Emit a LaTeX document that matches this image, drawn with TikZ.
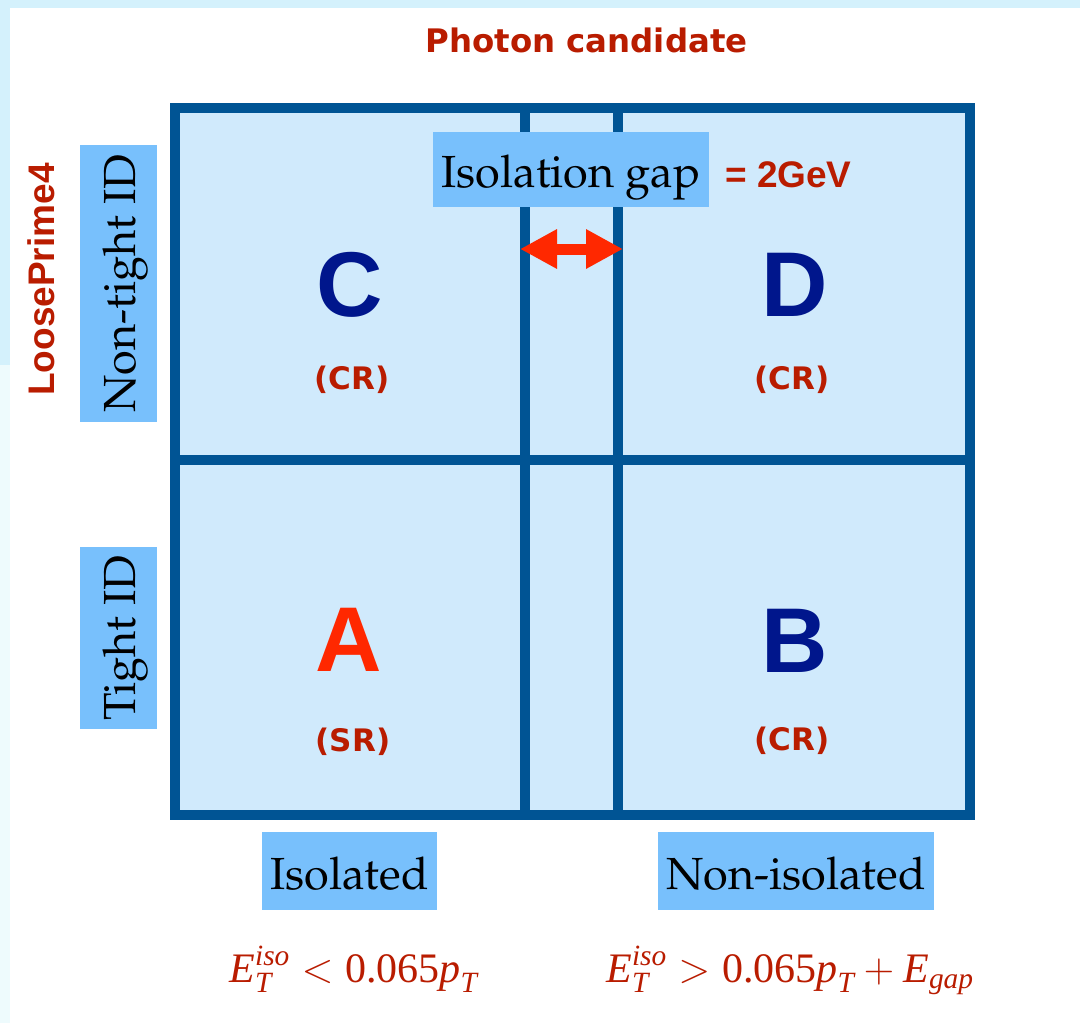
\RequirePackage{fix-cm}
\documentclass[tikz,border=0pt]{standalone}
\usepackage{fontspec}
\usepackage{amsmath}
\usetikzlibrary{arrows.meta}
\setmainfont{Liberation Serif}
\newfontfamily\asans{Liberation Sans}
\newfontfamily\dsans{DejaVu Sans}
\newfontfamily\tms{Liberation Serif}
\newcommand\ti[1]{\text{\tms\itshape #1}}
\newcommand\tu[1]{\text{\tms #1}}
\definecolor{framecol}{RGB}{0,84,148}
\definecolor{cellfill}{RGB}{208,234,252}
\definecolor{boxblue}{RGB}{120,192,252}
\definecolor{navy}{RGB}{0,22,140}
\definecolor{redA}{RGB}{255,40,0}
\definecolor{darkred}{RGB}{185,28,0}
\definecolor{stripA}{RGB}{212,241,252}
\definecolor{stripB}{RGB}{238,251,253}
\tikzset{
  frameline/.style={draw=framecol, line width=10pt, line join=miter},
  lblbox/.style={fill=boxblue, inner sep=0pt, text depth=0pt,
    font={\fontencoding{OT1}\fontfamily{ppl}\fontseries{m}\fontshape{n}\fontsize{45}{54}\selectfont}},
  bigletter/.style={inner sep=0pt, font={\asans\bfseries\fontsize{92}{100}\selectfont}},
  region/.style={inner sep=0pt, text=darkred, font={\dsans\bfseries\fontsize{31}{37}\selectfont}},
  formula/.style={inner sep=0pt, anchor=base, text=darkred, font={\fontsize{42}{50}\selectfont}},
  gaparrow/.style={draw=redA, line width=11pt,
    {Triangle[length=37pt,width=37pt]}-{Triangle[length=37pt,width=37pt]}}
}
\begin{document}
\begin{tikzpicture}[x=1pt,y=-1pt]
\useasboundingbox (0,0) rectangle (1080,1023);
\fill[white] (0,0) rectangle (1080,1023);
\fill[stripA] (0,0) rectangle (1080,8);
\fill[stripA] (0,0) rectangle (10,365);
\fill[stripB] (0,365) rectangle (10,1023);

% frame
\coordinate (tl) at (175,108);
\coordinate (br) at (969.5,815);
\coordinate (v1t) at (524.5,108);
\coordinate (v1b) at (524.5,815);
\coordinate (v2t) at (618,108);
\coordinate (v2b) at (618,815);
\coordinate (hl) at (175,460);
\coordinate (hr) at (969.5,460);
\fill[cellfill] (tl) rectangle (br);
\draw[frameline] (tl) rectangle (br);
\draw[frameline] (v1t) -- (v1b);
\draw[frameline] (v2t) -- (v2b);
\draw[frameline] (hl) -- (hr);

% gap arrow
\coordinate (gl) at (520,249);
\coordinate (gr) at (623,249);
\draw[gaparrow] (gl) -- (gr);

% titles
\node[inner sep=0pt, text=darkred, font={\dsans\bfseries\fontsize{32.4}{38}\selectfont}] (title) at (586.5,40.5) {Photon candidate};
\node[inner sep=0pt, rotate=90, text=darkred, font={\asans\bfseries\fontsize{37}{44}\selectfont}] (lp) at (41.5,279.5) {LoosePrime4};

% label boxes
\node[lblbox, minimum width=276pt, minimum height=75pt, text height=35pt] (gapbox) at (571,169.5) {Isolation gap};
\node[anchor=base west, inner sep=0pt, text=darkred, font={\asans\bfseries\fontsize{37}{44}\selectfont}] (gev) at (725,187) {= 2GeV};
\node[lblbox, rotate=90, minimum width=277pt, minimum height=77pt, text height=33pt] (ntbox) at (118.5,283.5) {Non-tight ID};
\node[lblbox, rotate=90, minimum width=182pt, minimum height=77pt, text height=33pt] (tbox) at (118.5,638) {Tight ID};
\node[lblbox, minimum width=175pt, minimum height=78pt, text height=37pt] (isobox) at (349.5,871) {Isolated};
\node[lblbox, minimum width=276pt, minimum height=78pt, text height=37pt] (nisobox) at (796,871) {Non-isolated};

% region letters
\node[bigletter, text=navy] (C) at (349.5,284.5) {C};
\node[bigletter, text=navy] (D) at (795,284.5) {D};
\node[bigletter, text=redA] (A) at (349,640) {A};
\node[bigletter, text=navy] (B) at (794.5,640.5) {B};
\node[region] (Ccr) at (352,380) {(CR)};
\node[region] (Dcr) at (792,380) {(CR)};
\node[region] (Asr) at (353,742) {(SR)};
\node[region] (Bcr) at (792,741) {(CR)};

% formulas
\node[formula] (f1) at (353.5,982) {$\ti{E}^{\ti{iso}}_{\ti{T}} < \tu{0.065}\ti{p}_{\ti{T}}$};
\node[formula] (f2) at (790,982) {$\ti{E}^{\ti{iso}}_{\ti{T}} > \tu{0.065}\ti{p}_{\ti{T}} + \ti{E}_{\ti{gap}}$};
\end{tikzpicture}
\end{document}
